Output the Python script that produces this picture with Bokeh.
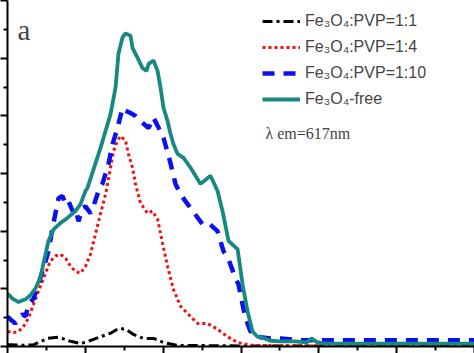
from bokeh.plotting import figure
from bokeh.models import Legend, LegendItem, Label, FixedTicker, CustomJSTickFormatter
from bokeh.embed import file_html
from bokeh.resources import INLINE

# ---- data (excitation spectra, lambda_em = 617 nm) ----
free_x = [200, 203.2, 207.1, 211.6, 214.8, 218.0, 221.2, 223.1, 226.3, 229.6, 234.0, 238.5,
          243.7, 246.9, 250.1, 251.4, 259.7, 266.2, 269.4, 271.3, 273.9, 275.8, 279.0, 280.3,
          283.5, 286.7, 289.3, 290.6, 293.8, 296.4, 298.3, 300.2, 302.8, 304.7, 306.6, 309.2,
          313.1, 317.6, 324.0, 330.4, 334.9, 338.1, 342.0, 347.8, 351.0, 354.2, 357.4, 360.6,
          365.1, 369.0, 375.4, 384.4, 392.1, 395.3, 398.5, 403.6, 450, 500]
free_y = [0.92, 0.83, 0.77, 0.82, 0.89, 1.01, 1.20, 1.44, 1.83, 2.03, 2.14, 2.23,
          2.35, 2.47, 2.70, 2.75, 3.44, 4.03, 4.49, 5.08, 5.36, 5.43, 5.39, 5.18,
          5.01, 4.83, 4.78, 4.90, 4.96, 4.78, 4.49, 4.14, 3.91, 3.69, 3.51, 3.34,
          3.27, 3.10, 2.82, 2.96, 2.70, 2.35, 1.83, 1.69, 1.08, 0.61, 0.26, 0.17,
          0.14, 0.10, 0.09, 0.09, 0.07, 0.14, 0.08, 0.05, 0.05, 0.05]

pvp10_x = [200, 201.9, 205.1, 207.1, 209.6, 211.6, 213.5, 216.7, 219.9, 223.1, 226.3, 228.9,
           230.8, 232.8, 235.3, 237.3, 239.2, 241.8, 243.7, 245.6, 248.2, 250.1, 253.3, 255.2,
           258.5, 261.0, 264.9, 267.5, 270.7, 273.9, 275.8, 279.0, 282.2, 285.4, 290.6, 293.8,
           296.4, 300.2, 304.7, 307.9, 311.1, 317.6, 325.3, 329.2, 334.9, 338.8, 342.0, 346.5,
           348.4, 351.0, 352.9, 356.1, 358.7, 362.5, 369.0, 375.4, 388.0, 420, 460, 500]
pvp10_y = [0.52, 0.47, 0.40, 0.47, 0.56, 0.52, 0.73, 0.83, 1.08, 1.36, 1.65, 2.05,
           2.31, 2.57, 2.61, 2.47, 2.52, 2.35, 2.40, 2.17, 2.40, 2.43, 2.31, 2.43,
           2.70, 2.82, 3.17, 3.51, 3.79, 4.14, 4.09, 4.05, 4.00, 3.91, 3.79, 3.97,
           3.83, 3.62, 3.18, 2.82, 2.64, 2.40, 2.12, 2.14, 2.00, 1.65, 1.51, 1.18,
           1.08, 0.73, 0.49, 0.26, 0.21, 0.16, 0.14, 0.14, 0.11, 0.11, 0.11, 0.11]

pvp4_x = [200, 203.9, 207.1, 210.3, 213.5, 216.7, 219.9, 223.1, 225.7, 227.6, 230.8, 234.0,
          237.3, 240.5, 243.7, 246.9, 250.1, 253.3, 256.5, 259.7, 263.0, 266.2, 268.1, 270.7,
          272.6, 275.8, 277.7, 280.3, 282.2, 285.4, 289.9, 293.1, 296.4, 299.6, 302.8, 306.6,
          311.1, 317.6, 322.1, 328.5, 334.9, 341.3, 347.8, 356.0, 400, 500]
pvp4_y = [0.26, 0.24, 0.26, 0.35, 0.49, 0.73, 0.96, 1.18, 1.36, 1.48, 1.57, 1.60,
          1.53, 1.39, 1.30, 1.27, 1.39, 1.60, 1.95, 2.30, 2.64, 3.10, 3.39, 3.57,
          3.65, 3.57, 3.34, 3.10, 2.82, 2.49, 2.31, 2.35, 2.21, 1.79, 1.39, 0.99,
          0.70, 0.52, 0.40, 0.40, 0.30, 0.17, 0.07, 0.02, 0.01, 0.01]

pvp1_x = [200, 201.9, 210.3, 216.7, 225.7, 232.8, 240.5, 246.9, 252.0, 259.7, 266.2, 271.3,
          275.8, 280.9, 287.4, 293.8, 300.2, 309.2, 350, 500]
pvp1_y = [0.03, 0.03, 0.02, 0.03, 0.14, 0.16, 0.09, 0.05, 0.09, 0.17, 0.23, 0.31,
          0.30, 0.21, 0.14, 0.14, 0.07, 0.02, 0.01, 0.01]

labels = ["Fe\u2083O\u2084:PVP=1:1", "Fe\u2083O\u2084:PVP=1:4",
          "Fe\u2083O\u2084:PVP=1:10", "Fe\u2083O\u2084-free"]
x_major = [200, 250, 300, 350, 400, 450, 500]
x_minor = [225, 275, 325, 375, 425, 475]
y_major = [0, 1, 2, 3, 4, 5, 6]
y_minor = [0.5, 1.5, 2.5, 3.5, 4.5, 5.5]

p = figure(width=474, height=353, x_range=(200, 500), y_range=(0, 6),
           output_backend="svg", toolbar_location=None, min_border=0)
p.outline_line_color = None
p.grid.visible = False
p.background_fill_color = "white"

p.xaxis.ticker = FixedTicker(ticks=x_major, minor_ticks=x_minor)
p.yaxis.ticker = FixedTicker(ticks=y_major, minor_ticks=y_minor)
for ax in (p.xaxis, p.yaxis):
    ax.axis_line_width = 2
    ax.axis_line_color = "black"
    ax.major_tick_line_width = 2
    ax.minor_tick_line_width = 2
    ax.major_tick_in = 0
    ax.major_tick_out = 7
    ax.minor_tick_in = 0
    ax.minor_tick_out = 4
    ax.formatter = CustomJSTickFormatter(code="return ''")
    ax.major_label_text_font_size = "0px"
    ax.major_label_standoff = 0

r1 = p.line(pvp1_x, pvp1_y, line_color="black", line_width=3, line_dash="10 4 3 4")
r2 = p.line(pvp4_x, pvp4_y, line_color="#ee1111", line_width=3, line_dash="3 3")
r3 = p.line(pvp10_x, pvp10_y, line_color="#0a10f0", line_width=4.5, line_dash="12 9")
r4 = p.line(free_x, free_y, line_color="#178882", line_width=3.8)

legend = Legend(items=[LegendItem(label=labels[0], renderers=[r1]),
                       LegendItem(label=labels[1], renderers=[r2]),
                       LegendItem(label=labels[2], renderers=[r3]),
                       LegendItem(label=labels[3], renderers=[r4])],
                location=(255, 237), padding=0, margin=0, spacing=6,
                glyph_width=38, glyph_height=20, label_height=20, label_standoff=5,
                label_text_font="Liberation Sans", label_text_font_size="16px",
                border_line_color=None, background_fill_alpha=0)
p.add_layout(legend, "center")

p.add_layout(Label(x=206.4, y=5.48, text="a", text_font="Liberation Serif",
                   text_font_size="29px", text_baseline="alphabetic"))
p.add_layout(Label(x=365.7, y=3.69, text="\u03bb em=617nm", text_font="Liberation Serif",
                   text_font_size="16px", text_baseline="alphabetic"))

open("out.html", "w").write(file_html(p, INLINE))
